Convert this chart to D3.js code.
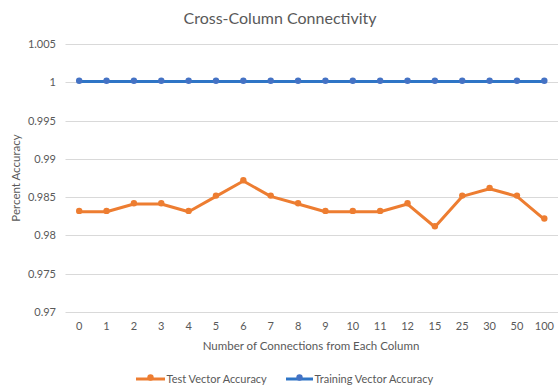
<!DOCTYPE html>
<html><head><meta charset="utf-8">
<script src="https://cdn.jsdelivr.net/npm/d3@7"></script>
<style>body{margin:0;background:#fff}svg{display:block}text{font-family:Lato,"Open Sans",sans-serif;fill:#595959}</style>
</head><body><svg id="c" width="560" height="388"></svg>
<script>
const categories = ["0","1","2","3","4","5","6","7","8","9","10","11","12","15","25","30","50","100"];
const testAccuracy = [0.9831,0.9831,0.9841,0.9841,0.9831,0.9851,0.9871,0.9851,0.9841,0.9831,0.9831,0.9831,0.9841,0.9811,0.9851,0.9861,0.9851,0.9821];
const trainAccuracy = [1.0001,1.0001,1.0001,1.0001,1.0001,1.0001,1.0001,1.0001,1.0001,1.0001,1.0001,1.0001,1.0001,1.0001,1.0001,1.0001,1.0001,1.0001];
const yTicks = [0.97,0.975,0.98,0.985,0.99,0.995,1,1.005];
const seriesNames = ["Test Vector Accuracy","Training Vector Accuracy"];
const colors = ["#ed7d31","#4472c4"];
const lineColors = ["#ed7d31","#2e75c6"];

const svg = d3.select("#c");
const x = d3.scaleBand().domain(categories).range([65.5,558]);
const y = d3.scaleLinear().domain([0.97,1.005]).range([312,44]);

svg.append("text").attr("x",280).attr("y",24).attr("text-anchor","middle").style("font-size","16px").text("Cross-Column Connectivity");

const grid = svg.append("g");
grid.selectAll("line").data(yTicks).join("line")
  .attr("x1",65.5).attr("x2",558).attr("y1",d=>Math.round(y(d))+0.5).attr("y2",d=>Math.round(y(d))+0.5)
  .attr("stroke","#d9d9d9").attr("stroke-width",1);

const yAxis = svg.append("g").attr("transform","translate(65,0)")
  .call(d3.axisLeft(y).tickValues(yTicks).tickSize(0).tickPadding(9).tickFormat(d=>String(+d.toFixed(3))));
yAxis.select(".domain").remove();
yAxis.selectAll("text").style("font-size","11px").attr("fill","#595959").style("font-family","Lato,sans-serif");

const xAxis = svg.append("g").attr("transform","translate(0,312)")
  .call(d3.axisBottom(x).tickSize(0).tickPadding(10));
xAxis.select(".domain").remove();
xAxis.selectAll("text").style("font-size","11px").attr("fill","#595959").style("font-family","Lato,sans-serif");

svg.append("text").attr("transform","translate(20,178) rotate(-90)").attr("text-anchor","middle").style("font-size","11.5px").text("Percent Accuracy");
svg.append("text").attr("x",311).attr("y",350).attr("text-anchor","middle").style("font-size","11.5px").text("Number of Connections from Each Column");

const cx = d => x(d) + x.bandwidth()/2;
const series = [testAccuracy, trainAccuracy];
series.forEach((vals,i)=>{
  const line = d3.line().x((d,j)=>cx(categories[j])).y(d=>y(d));
  svg.append("path").datum(vals).attr("d",line).attr("fill","none").attr("stroke",lineColors[i]).attr("stroke-width",3).attr("stroke-linejoin","round");
  svg.append("g").selectAll("circle").data(vals).join("circle")
    .attr("cx",(d,j)=>cx(categories[j])).attr("cy",d=>y(d)-0.8).attr("r",3.2).attr("fill",colors[i]);
});

const legend = [{x0:136,x1:165},{x0:286,x1:313}];
legend.forEach((l,i)=>{
  svg.append("line").attr("x1",l.x0).attr("x2",l.x1).attr("y1",379).attr("y2",379).attr("stroke",lineColors[i]).attr("stroke-width",3);
  svg.append("circle").attr("cx",(l.x0+l.x1)/2).attr("cy",377.5).attr("r",3.2).attr("fill",colors[i]);
  svg.append("text").attr("x",l.x1+1.5).attr("y",383).style("font-size","11px").text(seriesNames[i]);
});
</script></body></html>
